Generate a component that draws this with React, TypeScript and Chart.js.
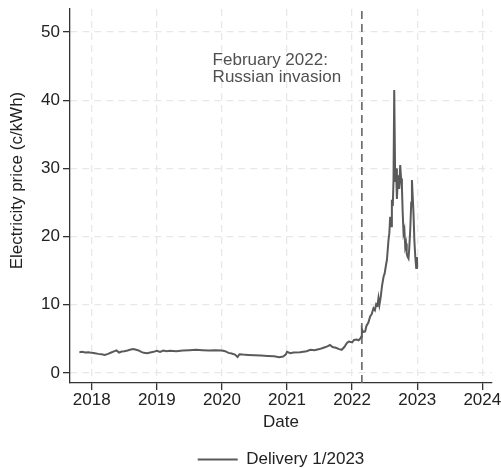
import React, { useEffect, useRef } from "react";
import { Chart, registerables } from "chart.js";

Chart.register(...registerables);

// Decimal-year dates and forward prices (c/kWh)
const dates = [
  2017.81, 2017.85, 2017.9, 2017.95, 2018.0, 2018.05, 2018.1, 2018.15, 2018.2, 2018.25,
  2018.3, 2018.35, 2018.38, 2018.42, 2018.46, 2018.5, 2018.55, 2018.6, 2018.64, 2018.68,
  2018.72, 2018.76, 2018.8, 2018.85, 2018.9, 2018.95, 2019.0, 2019.05, 2019.1, 2019.15,
  2019.2, 2019.3, 2019.4, 2019.5, 2019.6, 2019.7, 2019.8, 2019.9, 2020.0, 2020.05,
  2020.1, 2020.15, 2020.2, 2020.24, 2020.27, 2020.32, 2020.4, 2020.5, 2020.6, 2020.7,
  2020.8, 2020.88, 2020.94, 2020.98, 2021.0, 2021.05, 2021.1, 2021.2, 2021.3, 2021.36,
  2021.42, 2021.5, 2021.56, 2021.62, 2021.66, 2021.7, 2021.75, 2021.8, 2021.84, 2021.88,
  2021.92, 2021.95, 2022.0, 2022.03, 2022.07, 2022.1, 2022.13, 2022.14, 2022.15, 2022.17,
  2022.2, 2022.22, 2022.25, 2022.277, 2022.3, 2022.328, 2022.35, 2022.37, 2022.39, 2022.405,
  2022.42, 2022.44, 2022.46, 2022.483, 2022.5, 2022.52, 2022.535, 2022.559, 2022.572, 2022.585,
  2022.598, 2022.611, 2022.625, 2022.636, 2022.647, 2022.662, 2022.675, 2022.688, 2022.698, 2022.708,
  2022.724, 2022.739, 2022.752, 2022.765, 2022.777, 2022.79, 2022.803, 2022.816, 2022.828, 2022.839,
  2022.85, 2022.866, 2022.876, 2022.893, 2022.908, 2022.919, 2022.93, 2022.943, 2022.956, 2022.97,
  2022.985, 2022.996, 2023.0,
];
const prices = [
  3.05, 3.1, 3.0, 3.05, 2.95, 2.9, 2.8, 2.75, 2.65, 2.8,
  3.0, 3.2, 3.3, 3.0, 3.15, 3.2, 3.3, 3.45, 3.5, 3.4,
  3.3, 3.1, 2.95, 2.9, 3.0, 3.1, 3.25, 3.1, 3.3, 3.2,
  3.25, 3.2, 3.3, 3.35, 3.4, 3.35, 3.3, 3.35, 3.3, 3.2,
  2.95, 2.85, 2.7, 2.35, 2.75, 2.7, 2.65, 2.6, 2.55, 2.5,
  2.45, 2.3, 2.4, 2.7, 3.1, 2.9, 3.0, 3.05, 3.2, 3.4,
  3.35, 3.5, 3.7, 3.9, 4.1, 3.8, 3.7, 3.5, 3.4, 3.8,
  4.4, 4.6, 4.5, 4.85, 4.9, 4.8, 5.1, 5.3, 6.4, 6.0,
  6.1, 6.9, 7.4, 8.3, 8.6, 9.5, 9.2, 10.1, 9.9, 11.0,
  10.0, 11.2, 12.8, 14.1, 14.6, 15.8, 16.6, 19.5, 20.5, 22.9,
  21.5, 25.4, 24.5, 28.3, 41.5, 28.0, 30.0, 25.5, 27.5, 29.0,
  27.0, 30.5, 28.5, 27.3, 23.5, 20.5, 21.0, 18.5, 19.0, 17.5,
  17.1, 16.8, 18.0, 21.0, 25.0, 28.3, 26.0, 23.4, 19.5, 17.1,
  15.4, 17.0, 15.5,
];

const xTicks = [2018, 2019, 2020, 2021, 2022, 2023, 2024];
const yTicks = [0, 10, 20, 30, 40, 50];
const invasionDate = 2022.15;
const seriesLabel = "Delivery 1/2023";
const xTitle = "Date";
const yTitle = "Electricity price (c/kWh)";
const annotationLines = ["February 2022:", "Russian invasion"];
const annotationAnchor = { x: 2019.857, y: [45.9, 43.4] };

const FONT = "'Liberation Sans', Arial, Helvetica, sans-serif";

export default function App() {
  const ref = useRef<HTMLCanvasElement>(null);

  useEffect(() => {
    document.body.style.margin = "0";
    const textPlugin = {
      id: "extraText",
      afterDatasetsDraw(chart: any) {
        const { ctx, scales } = chart;
        ctx.save();
        ctx.font = `17px ${FONT}`;
        ctx.fillStyle = "#505050";
        ctx.textAlign = "left";
        ctx.textBaseline = "middle";
        annotationLines.forEach((t, i) => {
          ctx.fillText(
            t,
            scales.x.getPixelForValue(annotationAnchor.x),
            scales.y.getPixelForValue(annotationAnchor.y[i])
          );
        });
        ctx.restore();
      },
      afterDraw(chart: any) {
        const { ctx, chartArea } = chart;
        ctx.save();
        ctx.font = `17px ${FONT}`;
        ctx.fillStyle = "#222";
        ctx.textAlign = "center";
        ctx.textBaseline = "middle";
        ctx.translate(17.5, chartArea.top + 171.5);
        ctx.rotate(-Math.PI / 2);
        ctx.fillText(yTitle, 0, 0);
        ctx.restore();
      },
    };

    const chart = new Chart(ref.current!, {
      type: "line",
      data: {
        datasets: [
          {
            label: seriesLabel,
            data: dates.map((d, i) => ({ x: d, y: prices[i] })),
            borderColor: "#5a5a5a",
            backgroundColor: "#5a5a5a",
            borderWidth: 2,
            pointRadius: 0,
            tension: 0,
          },
          {
            label: "invasion",
            data: [
              { x: invasionDate, y: -1.47 },
              { x: invasionDate, y: 53.37 },
            ],
            borderColor: "#666666",
            borderWidth: 1.6,
            borderDash: [8, 5],
            pointRadius: 0,
          },
        ],
      },
      options: {
        responsive: false,
        animation: false,
        layout: { padding: { top: 9, right: 9, left: 0, bottom: -10 } },
        plugins: {
          legend: {
            position: "bottom",
            fullSize: false,
            labels: {
              filter: (item: any) => item.datasetIndex === 0,
              usePointStyle: true,
              pointStyle: "line",
              pointStyleWidth: 40,
              boxWidth: 40,
              boxHeight: 17,
              color: "#222",
              font: { family: FONT, size: 17 },
              padding: 0,
            },
          },
          tooltip: { enabled: false },
        },
        scales: {
          x: {
            type: "linear",
            min: 2017.666,
            max: 2024.149,
            afterBuildTicks: (s: any) => {
              s.ticks = xTicks.map((v) => ({ value: v }));
            },
            afterFit: (s: any) => {
              s.height = 68;
              s.paddingLeft = 0;
              s.paddingRight = 0;
            },
            ticks: {
              color: "#222",
              font: { family: FONT, size: 17 },
              padding: 0,
              maxRotation: 0,
              callback: (v: any) => String(v),
            },
            grid: { color: "#e8e8e8", lineWidth: 1.3, tickColor: "#333", tickLength: 7 },
            border: { display: true, color: "#333", width: 1.3, dash: [7, 5] },
            title: {
              display: true,
              text: xTitle,
              color: "#222",
              font: { family: FONT, size: 17 },
              padding: { top: 0, bottom: 18 },
            },
          },
          y: {
            type: "linear",
            min: -1.47,
            max: 53.37,
            afterBuildTicks: (s: any) => {
              s.ticks = yTicks.map((v) => ({ value: v }));
            },
            afterFit: (s: any) => {
              s.width = 70;
              s.paddingTop = 0;
              s.paddingBottom = 0;
            },
            ticks: {
              color: "#222",
              font: { family: FONT, size: 17 },
              padding: 3,
              callback: (v: any) => String(v),
            },
            grid: { color: "#e8e8e8", lineWidth: 1.3, tickColor: "#333", tickLength: 7 },
            border: { display: true, color: "#333", width: 1.3, dash: [7, 5] },
          },
        },
      },
      plugins: [textPlugin],
    } as any);

    return () => chart.destroy();
  }, []);

  return (
    <canvas ref={ref} width={501} height={468} style={{ display: "block", width: 501, height: 468 }} />
  );
}
